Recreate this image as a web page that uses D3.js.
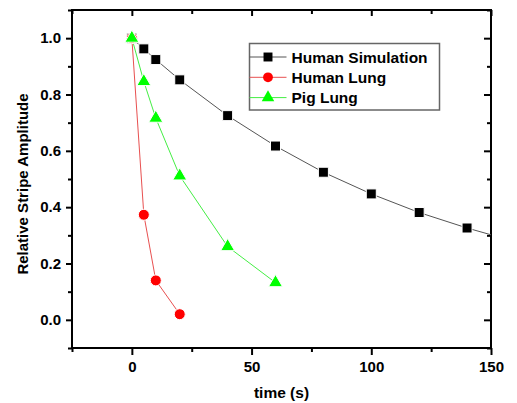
<!DOCTYPE html>
<html>
<head>
<meta charset="utf-8">
<script src="https://cdn.jsdelivr.net/npm/d3@7"></script>
<style>
  body { margin: 0; background: #fff; }
  text { font-family: "Liberation Sans", Arial, sans-serif; font-weight: bold; }
</style>
</head>
<body>
<script>
'use strict';
(function () {
  // data
  let simTime = [0, 5, 10, 20, 40, 60, 80, 100, 120, 140, 160];
  let simAmp = [1.0, 0.962, 0.924, 0.852, 0.725, 0.617, 0.524, 0.447, 0.381, 0.326, 0.278];
  let humanTime = [0, 5, 10, 20];
  let humanAmp = [1.0, 0.373, 0.140, 0.020];
  let pigTime = [0, 5, 10, 20, 40, 60];
  let pigAmp = [1.0, 0.846, 0.716, 0.511, 0.260, 0.132];
  let xTicks = [0, 50, 100, 150];
  let xMinor = [-25, 25, 75, 125];
  let yTicks = [0.0, 0.2, 0.4, 0.6, 0.8, 1.0];
  let yMinor = [-0.1, 0.1, 0.3, 0.5, 0.7, 0.9, 1.1];
  let seriesNames = ["Human Simulation", "Human Lung", "Pig Lung"];

  let width = 517, height = 403;
  let plot = { left: 72, right: 491, top: 10, bottom: 348 };

  let svg = d3.select('body').append('svg')
    .attr('width', width)
    .attr('height', height);

  let x = d3.scaleLinear().domain([-25, 150]).range([plot.left, plot.right]);
  let y = d3.scaleLinear().domain([-0.1, 1.1]).range([plot.bottom, plot.top]);

  svg.append('clipPath').attr('id', 'clip')
    .append('rect')
    .attr('x', plot.left).attr('y', plot.top)
    .attr('width', plot.right - plot.left).attr('height', plot.bottom - plot.top);

  // axes
  function styleAxis(g) {
    g.select('.domain').remove();
    g.selectAll('.tick line').attr('stroke', '#000').attr('stroke-width', 2);
    g.selectAll('.tick text').style('font-size', '15px').attr('fill', '#000');
  }

  svg.append('g')
    .attr('transform', 'translate(0,' + plot.bottom + ')')
    .call(d3.axisBottom(x).tickValues(xTicks).tickSize(7).tickPadding(6).tickFormat(d3.format('d')))
    .call(styleAxis);
  svg.append('g')
    .attr('transform', 'translate(0,' + plot.bottom + ')')
    .call(d3.axisBottom(x).tickValues(xMinor).tickSize(4).tickFormat(''))
    .call(styleAxis);

  svg.append('g')
    .attr('transform', 'translate(' + plot.left + ',0)')
    .call(d3.axisLeft(y).tickValues(yTicks).tickSize(6).tickPadding(5).tickFormat(d3.format('.1f')))
    .call(styleAxis);
  svg.append('g')
    .attr('transform', 'translate(' + plot.left + ',0)')
    .call(d3.axisLeft(y).tickValues(yMinor).tickSize(4).tickFormat(''))
    .call(styleAxis);

  // mirrored ticks on top and right, pointing into the plot
  svg.append('g')
    .attr('transform', 'translate(0,' + plot.top + ')')
    .call(d3.axisBottom(x).tickValues(xTicks).tickSize(6).tickFormat(''))
    .call(styleAxis);
  svg.append('g')
    .attr('transform', 'translate(0,' + plot.top + ')')
    .call(d3.axisBottom(x).tickValues(xMinor).tickSize(4).tickFormat(''))
    .call(styleAxis);
  svg.append('g')
    .attr('transform', 'translate(' + plot.right + ',0)')
    .call(d3.axisLeft(y).tickValues(yTicks).tickSize(7).tickFormat(''))
    .call(styleAxis);
  svg.append('g')
    .attr('transform', 'translate(' + plot.right + ',0)')
    .call(d3.axisLeft(y).tickValues(yMinor).tickSize(4).tickFormat(''))
    .call(styleAxis);

  svg.append('rect')
    .attr('x', plot.left).attr('y', plot.top)
    .attr('width', plot.right - plot.left).attr('height', plot.bottom - plot.top)
    .attr('fill', 'none').attr('stroke', '#000').attr('stroke-width', 2);

  // series
  let series = [
    { name: seriesNames[0], t: simTime, v: simAmp, line: '#555', fill: '#000', shape: d3.symbolSquare, size: 100 },
    { name: seriesNames[1], t: humanTime, v: humanAmp, line: '#e85050', fill: '#ff0000', shape: d3.symbolCircle, size: 95 },
    { name: seriesNames[2], t: pigTime, v: pigAmp, line: '#44ee44', fill: '#00ff00', shape: d3.symbolTriangle, size: 85 }
  ];

  let line = d3.line()
    .x((d) => x(d[0]))
    .y((d) => y(d[1]));

  let plotArea = svg.append('g').attr('clip-path', 'url(#clip)');

  series.forEach((s) => {
    let pts = s.t.map((t, i) => [t, s.v[i]]);
    plotArea.append('path')
      .datum(pts)
      .attr('fill', 'none')
      .attr('stroke', s.line)
      .attr('stroke-width', 1)
      .attr('d', line);
  });

  series.forEach((s) => {
    let pts = s.t.map((t, i) => [t, s.v[i]]);
    plotArea.selectAll(null)
      .data(pts)
      .enter()
      .append('path')
      .attr('transform', (d) => 'translate(' + x(d[0]) + ',' + y(d[1]) + ')')
      .attr('d', d3.symbol().type(s.shape).size(s.size))
      .attr('fill', s.fill)
      .attr('stroke', '#fff')
      .attr('stroke-width', 1);
  });

  // legend
  let legend = svg.append('g').attr('transform', 'translate(249.5,43.5)');
  legend.append('rect')
    .attr('width', 190).attr('height', 66.5)
    .attr('fill', '#fff').attr('stroke', '#666').attr('stroke-width', 1.5);
  series.forEach((s, i) => {
    let row = legend.append('g').attr('transform', 'translate(0,' + (13.5 + i * 20.3) + ')');
    row.append('line')
      .attr('x1', 0).attr('x2', 37)
      .attr('stroke', s.line).attr('stroke-width', 1);
    row.append('path')
      .attr('transform', 'translate(18.5,0)')
      .attr('d', d3.symbol().type(s.shape).size(s.size * 0.8))
      .attr('fill', s.fill);
    row.append('text')
      .attr('x', 42).attr('y', 5.5)
      .style('font-size', '15.5px')
      .text(s.name);
  });

  // titles
  svg.append('text')
    .attr('x', (plot.left + plot.right) / 2)
    .attr('y', 398)
    .attr('text-anchor', 'middle')
    .style('font-size', '15.5px')
    .text('time (s)');
  svg.append('text')
    .attr('transform', 'translate(28,184)rotate(-90)')
    .attr('text-anchor', 'middle')
    .style('font-size', '15px')
    .text('Relative Stripe Amplitude');
})();
</script>
</body>
</html>
